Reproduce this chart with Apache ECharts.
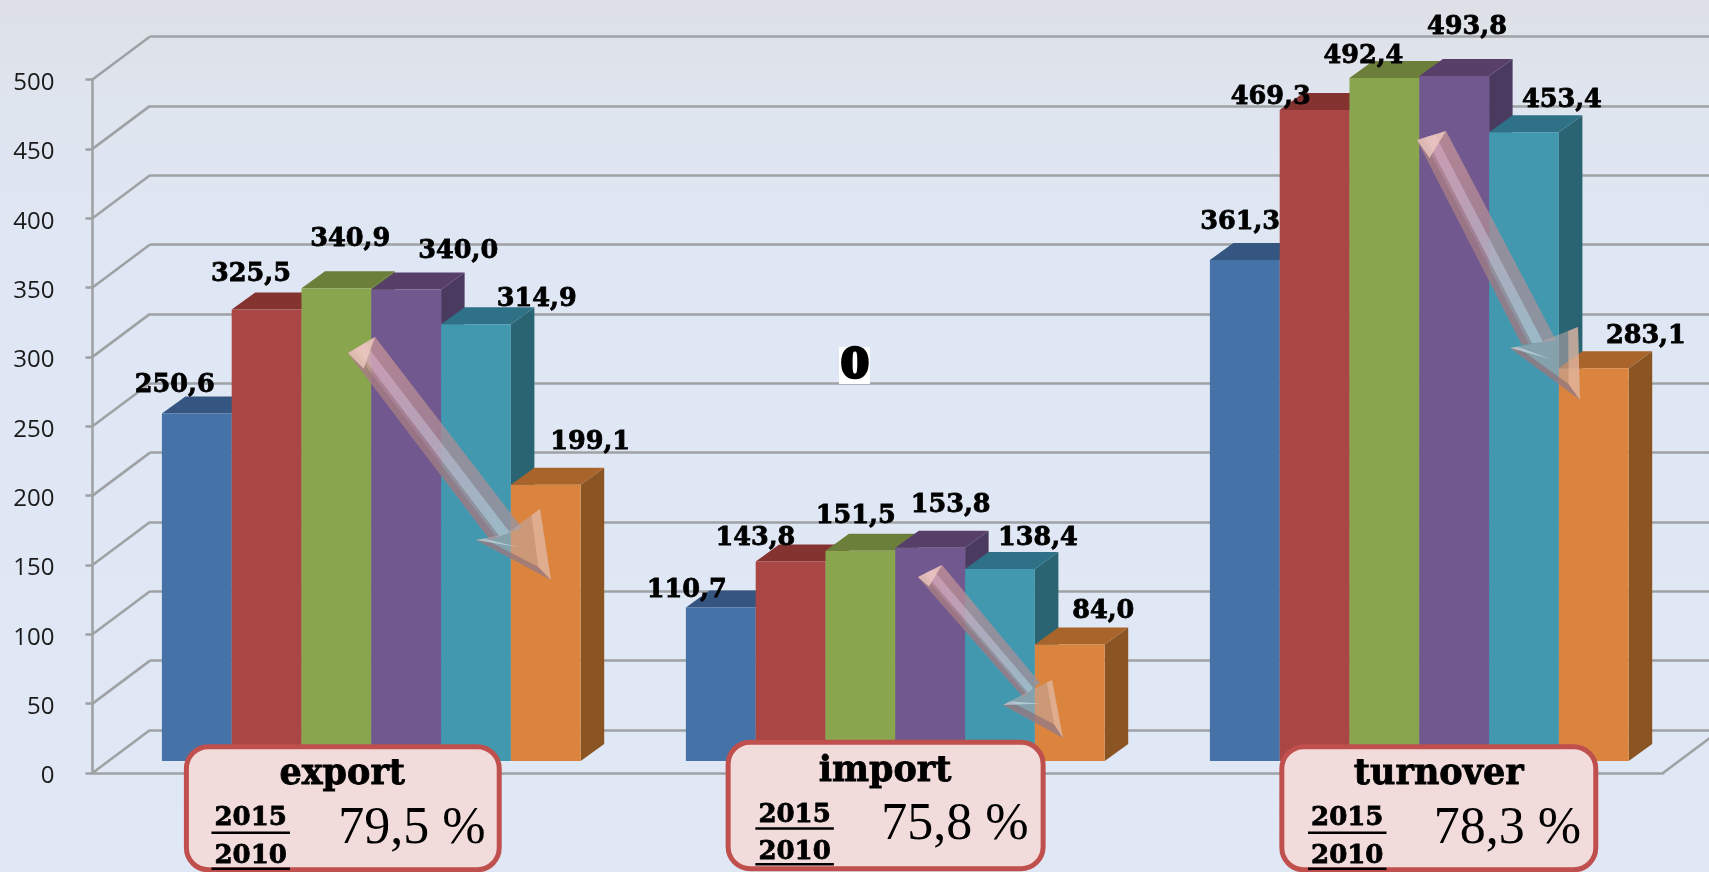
<!DOCTYPE html>
<html><head><meta charset="utf-8">
<style>html,body{margin:0;padding:0;background:#dfe7f4}#c{width:1709px;height:872px}</style>
<script src="https://cdn.jsdelivr.net/npm/echarts@6/dist/echarts.min.js"></script>
</head><body><div id="c"></div>
<script>
const categories = ['export', 'import', 'turnover'];
const years = ['2010', '2011', '2012', '2013', '2014', '2015'];
const v2010 = [250.6, 110.7, 361.3];
const v2011 = [325.5, 143.8, 469.3];
const v2012 = [340.9, 151.5, 492.4];
const v2013 = [340.0, 153.8, 493.8];
const v2014 = [314.9, 138.4, 453.4];
const v2015 = [199.1, 84.0, 283.1];
const seriesValues = [v2010, v2011, v2012, v2013, v2014, v2015];
const yTicks = [0, 50, 100, 150, 200, 250, 300, 350, 400, 450, 500];
const ratios = ['79,5 %', '75,8 %', '78,3 %'];

/* styling */
const S = 1.09;
const front = ['#4572a7', '#aa4643', '#89a54e', '#71588f', '#4198af', '#db843d'];
const topC  = ['#345681', '#843331', '#6b7f3b', '#573f6a', '#2f7288', '#a8642b'];
const sideC = ['#2f4d73', '#732d2b', '#5d6f33', '#4b3a60', '#2a6472', '#8a5423'];
const barW = 69.8, depthX = 23.5, depthY = 17;
const labelDx = [[-20, -14, 13, 48, 56, 41], [-31, -32, -4, 19, 35, 31], [-4, -40, -19, 12, 35, 48]];
const labelDy = [[-28, -35, -47, -37, -25, -41], [-18, -24, -34, -41, -30, -33], [-37, -14, -22, -47, -31, -32]];
const gridColor = '#9fa2a4';
const wallDx = 57.5, wallDy = 43;

function barSeries(si) {
  return {
    type: 'custom', name: years[si], xAxisIndex: 2, yAxisIndex: 2, z: 3, clip: false,
    data: categories.map((c, i) => [i, seriesValues[si][i]]),
    encode: {x: 0, y: 1},
    renderItem(params, api) {
      const base = api.coord([api.value(0), 0]);
      const top = api.coord([api.value(0), api.value(1)]);
      const x0 = base[0] - 0.7 + (si - 3) * barW, x1 = x0 + barW, yT = top[1], yB = base[1];
      return {type: 'group', children: [
        {type: 'polygon', shape: {points: [[x1, yT], [x1 + depthX, yT - depthY], [x1 + depthX, yB - depthY], [x1, yB]]}, style: {fill: sideC[si]}},
        {type: 'polygon', shape: {points: [[x0, yT], [x0 + depthX, yT - depthY], [x1 + depthX, yT - depthY], [x1, yT]]}, style: {fill: topC[si]}},
        {type: 'rect', shape: {x: x0, y: yT, width: barW, height: yB - yT}, style: {fill: front[si]}}
      ]};
    }
  };
}
function labelSeries(si) {
  return {
    type: 'custom', xAxisIndex: 2, yAxisIndex: 2, z: 6, clip: false,
    data: categories.map((c, i) => [i, seriesValues[si][i]]),
    encode: {x: 0, y: 1},
    renderItem(params, api) {
      const i = api.value(0);
      const base = api.coord([i, 0]);
      const top = api.coord([i, api.value(1)]);
      const cx = base[0] - 1 + (si - 2.5) * barW + labelDx[i][si] * S;
      const cy = top[1] + labelDy[i][si] * S + 2.5;
      return {type: 'text', style: {x: cx, y: cy, text: api.value(1).toFixed(1).replace('.', ','),
        font: 'bold 25.5px "DejaVu Serif"', fill: '#000', stroke: '#000', lineWidth: 0.8, align: 'center', verticalAlign: 'middle'}};
    }
  };
}
const wallSeries = {
  type: 'custom', xAxisIndex: 0, yAxisIndex: 0, z: 1, clip: false,
  data: yTicks.map(t => [0, t]),
  encode: {y: 1},
  renderItem(params, api) {
    const y = api.coord([0, api.value(1)])[1];
    const x = params.coordSys.x;
    const lines = [{type: 'line', shape: {x1: x, y1: y, x2: x + wallDx, y2: y - wallDy}, style: {stroke: gridColor, lineWidth: 2.6}}];
    if (api.value(1) === 0) {
      const xr = x + params.coordSys.width;
      lines.push({type: 'line', shape: {x1: xr, y1: y, x2: xr + wallDx, y2: y - wallDy}, style: {stroke: gridColor, lineWidth: 2.6}});
    }
    return {type: 'group', children: lines};
  }
};

/* annotation graphics (coordinates measured in a 1568-wide frame, scaled by S) */
const boxes = [
  {x: 171, y: 685, w: 287, h: 113, name: 0, nx: 314, ny: 711, yx: 230, y1: 751, y2: 786, u1: 764, u2: 797, vx: 378, vy: 761},
  {x: 668, y: 681, w: 289, h: 116, name: 1, nx: 812, ny: 708, yx: 729, y1: 748, y2: 782, u1: 760, u2: 793, vx: 876, vy: 757},
  {x: 1176, y: 685, w: 288, h: 113, name: 2, nx: 1320, ny: 711, yx: 1236, y1: 751, y2: 786, u1: 764, u2: 797, vx: 1383, vy: 761}
];
const graphics = [];
boxes.forEach(b => {
  graphics.push({type: 'rect', z: 50, shape: {x: b.x * S, y: b.y * S, width: b.w * S, height: b.h * S, r: 22},
    style: {fill: '#f2dcdb', stroke: '#c0504d', lineWidth: 5}});
  const t = (text, x, y, font, sw) => graphics.push({type: 'text', z: 51, style: {text, x: x * S, y: y * S, font, fill: '#000', stroke: sw ? '#000' : null, lineWidth: sw || 0, align: 'center', verticalAlign: 'middle'}});
  t(categories[b.name], b.nx, b.ny, 'bold 35px "DejaVu Serif"', 0.8);
  t('2015', b.yx, b.y1, 'bold 26px "DejaVu Serif"', 0.8);
  t('2010', b.yx, b.y2, 'bold 26px "DejaVu Serif"', 0.8);
  t(ratios[b.name], b.vx, b.vy, '52px "Liberation Serif"');
  [b.u1, b.u2].forEach(u => graphics.push({type: 'line', z: 51,
    shape: {x1: (b.yx - 36) * S, y1: u * S, x2: (b.yx + 36) * S, y2: u * S}, style: {stroke: '#000', lineWidth: 2.5}}));
});
const arrows = [
  {tl: [348, 353], tr: [375, 337], nl: [490, 540], nr: [522, 528], wl: [476, 540], wr: [540, 509], tip: [551, 580]},
  {tl: [918, 577], tr: [942, 565], nl: [1023, 697], nr: [1040, 683], wl: [1003, 705], wr: [1052, 680], tip: [1063, 738]},
  {tl: [1417, 140], tr: [1446, 131], nl: [1522, 345], nr: [1556, 340], wl: [1510, 348], wr: [1578, 327], tip: [1580, 400]}
];
const mix = (a, b, t) => [a[0] + (b[0] - a[0]) * t, a[1] + (b[1] - a[1]) * t];
arrows.forEach(a => {
  const grad = {type: 'linear', x: 0, y: 0, x2: 1, y2: 1, colorStops: [
    {offset: 0, color: 'rgba(205,150,150,.75)'}, {offset: .5, color: 'rgba(175,140,150,.75)'}, {offset: 1, color: 'rgba(150,148,158,.85)'}]};
  const core = {type: 'linear', x: 0, y: 0, x2: 1, y2: 1, colorStops: [
    {offset: 0, color: 'rgba(225,175,205,.5)'}, {offset: 1, color: 'rgba(165,210,225,.6)'}]};
  graphics.push({type: 'polygon', z: 20, shape: {points: [a.tl, a.tr, a.nr, a.nl]}, style: {fill: grad}});
  graphics.push({type: 'polygon', z: 21, shape: {points: [mix(a.tl, a.tr, .3), mix(a.tl, a.tr, .62), mix(a.nl, a.nr, .62), mix(a.nl, a.nr, .3)]}, style: {fill: core}});
  graphics.push({type: 'polygon', z: 21, shape: {points: [a.tl, mix(a.tl, a.tr, .2), mix(a.nl, a.nr, .2), a.nl]}, style: {fill: 'rgba(140,105,115,.45)'}});
  const notch = mix(a.nl, a.nr, .5);
  const inner = mix(a.tip, notch, .28);
  graphics.push({type: 'polygon', z: 22, shape: {points: [a.wl, notch, a.wr, a.tip]}, style: {fill: 'rgba(190,170,170,.55)'}});
  graphics.push({type: 'polygon', z: 23, shape: {points: [a.wl, a.tip, inner, mix(a.wl, notch, .25)]}, style: {fill: 'rgba(135,105,115,.6)'}});
  graphics.push({type: 'polygon', z: 23, shape: {points: [a.wr, a.tip, inner, mix(a.wr, notch, .25)]}, style: {fill: 'rgba(240,190,160,.55)'}});
  graphics.push({type: 'polygon', z: 23, shape: {points: [a.wl, notch, mix(a.wl, notch, .25), mix(notch, inner, .4)]}, style: {fill: 'rgba(205,230,240,.6)'}});
  graphics.push({type: 'polygon', z: 23, shape: {points: [a.tl, a.tr, mix(a.tl, a.nr, .09)]}, style: {fill: 'rgba(240,205,195,.75)'}});
});
graphics.push({type: 'rect', z: 30, shape: {x: 839, y: 347, width: 31, height: 37}, style: {fill: '#fff'}});
graphics.push({type: 'text', z: 31, style: {text: '0', x: 855, y: 367, font: 'bold 40px "DejaVu Serif"', fill: '#000', stroke: '#000', lineWidth: 3.5, align: 'center', verticalAlign: 'middle'}});

const hiddenCat = gi => ({type: 'category', gridIndex: gi, data: categories, show: false});
const chart = echarts.init(document.getElementById('c'), null, {renderer: 'canvas'});
chart.setOption({
  animation: false,
  backgroundColor: {type: 'linear', x: 0, y: 0, x2: 0, y2: 1, colorStops: [
    {offset: 0, color: '#dde0e6'}, {offset: .12, color: '#dfe5ef'}, {offset: .3, color: '#dfe7f4'}, {offset: 1, color: '#e0e8f5'}]},
  grid: [
    {left: 92.5, top: 79.5, width: 1570.5, height: 693.5},
    {left: 150, top: 36.5, width: 1559, height: 693.5},
    {left: 110, top: 67.5, width: 1572, height: 693.5},
    {left: 92.5, top: 83, width: 1570.5, height: 693.5}
  ],
  xAxis: [
    {type: 'category', gridIndex: 0, data: categories, axisLabel: {show: false}, axisTick: {show: false},
      axisLine: {lineStyle: {color: gridColor, width: 2.6}}},
    hiddenCat(1), hiddenCat(2), hiddenCat(3)
  ],
  yAxis: [
    {type: 'value', gridIndex: 0, min: 0, max: 500, interval: 50, splitLine: {show: false},
      axisLine: {show: true, lineStyle: {color: gridColor, width: 2.6}},
      axisTick: {show: true, length: 7, lineStyle: {color: gridColor, width: 2.6}},
      axisLabel: {show: false}},
    {type: 'value', gridIndex: 1, min: 0, max: 500, interval: 50, axisLine: {show: false}, axisTick: {show: false},
      axisLabel: {show: false}, splitLine: {show: true, lineStyle: {color: gridColor, width: 2.6}}},
    {type: 'value', gridIndex: 2, min: 0, max: 500, interval: 50, show: false, splitLine: {show: false}},
    {type: 'value', gridIndex: 3, min: 0, max: 500, interval: 50, splitLine: {show: false},
      axisLine: {show: false}, axisTick: {show: false},
      axisLabel: {margin: 38, color: '#1a1a1a', fontFamily: 'Open Sans', fontSize: 24}}
  ],
  graphic: {elements: graphics},
  series: [wallSeries].concat(years.map((y, i) => barSeries(i)), years.map((y, i) => labelSeries(i)))
});
</script></body></html>
